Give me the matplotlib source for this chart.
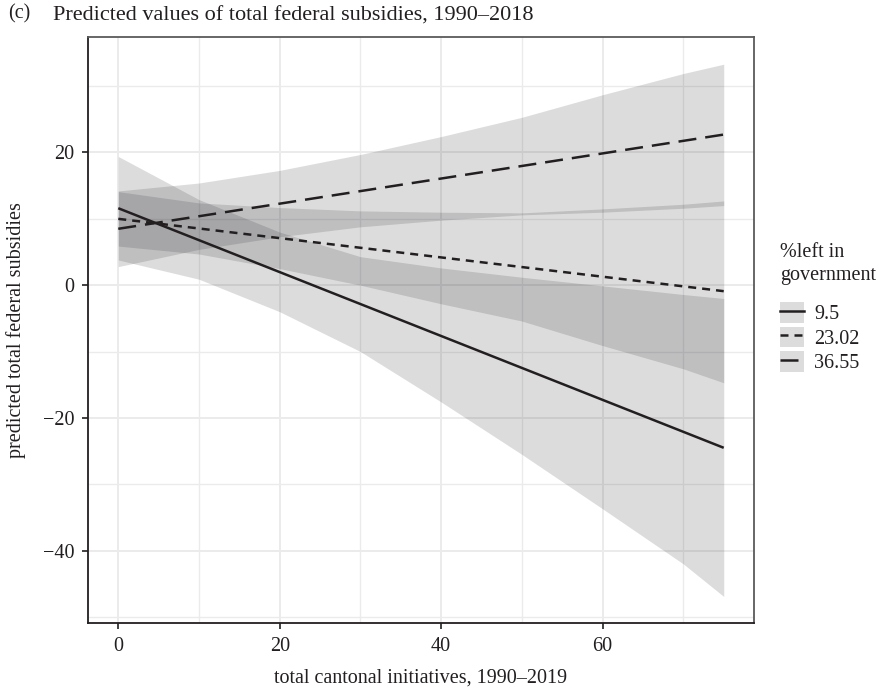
import matplotlib
matplotlib.use("Agg")
import matplotlib.pyplot as plt
from matplotlib.lines import Line2D
from matplotlib.patches import Patch
from matplotlib.ticker import MultipleLocator

plt.rcParams['font.family'] = ['Liberation Serif', 'DejaVu Serif']
plt.rcParams['axes.unicode_minus'] = True

# groups (%left in government)
groups = ["9.5", "23.02", "36.55"]

# predicted lines (straight, from x=0 to x=75)
line_x = [0, 75]
pred_95 = [11.6, -24.5]
pred_2302 = [10.0, -0.9]
pred_3655 = [8.5, 22.7]

# confidence bands read at these x values
band_x = [0, 10, 20, 30, 40, 50, 60, 70, 75]
low_95 = [3.8, 0.9, -4.0, -10.0, -17.6, -25.5, -33.7, -42.0, -46.9]
high_95 = [19.4, 12.9, 8.0, 4.3, 2.6, 1.2, -0.1, -1.4, -2.0]
low_2302 = [5.9, 4.7, 2.5, 0.0, -2.8, -5.4, -9.1, -12.6, -14.7]
high_2302 = [14.1, 12.4, 11.7, 11.2, 11.0, 10.9, 11.5, 12.2, 12.7]
low_3655 = [2.8, 5.4, 7.3, 8.8, 9.8, 10.6, 11.0, 11.6, 12.0]
high_3655 = [14.2, 15.4, 17.3, 19.7, 22.4, 25.3, 28.7, 31.9, 33.3]

ink = '#231f20'
band_col = (0.10, 0.10, 0.12)
band_alpha = 0.15
fs = 14.5

fig = plt.figure(figsize=(8.87, 6.89), dpi=100)
ax = fig.add_axes([88/887, 1 - 623/689, (754 - 88)/887, (623 - 37)/689])

preds = [pred_95, pred_2302, pred_3655]
lows = [low_95, low_2302, low_3655]
highs = [high_95, high_2302, high_3655]
dash_styles = [None, (3.2, 2.4), (7.2, 3.6)]

for lo, hi in zip(lows, highs):
    ax.fill_between(band_x, lo, hi, color=band_col, alpha=band_alpha, lw=0, zorder=2)

for p, ds in zip(preds, dash_styles):
    ln, = ax.plot(line_x, p, color=ink, lw=1.8, zorder=3, solid_capstyle='butt')
    if ds is not None:
        ln.set_dashes(ds)

ax.set_xlim(-3.75, 78.75)
ax.set_ylim(-50.9, 37.4)
ax.xaxis.set_major_locator(MultipleLocator(20))
ax.xaxis.set_minor_locator(MultipleLocator(10))
ax.yaxis.set_major_locator(MultipleLocator(20))
ax.yaxis.set_minor_locator(MultipleLocator(10))
ax.grid(which='major', color='#ebebeb', lw=1.4, zorder=0)
ax.grid(which='minor', color='#ebebeb', lw=1.0, zorder=0)
ax.set_axisbelow(True)

ax.tick_params(which='major', direction='out', length=4, width=1.2, color=ink,
               labelsize=fs, labelcolor=ink, pad=6)
ax.tick_params(which='minor', length=0)
for s in ['left', 'bottom']:
    ax.spines[s].set_color(ink)
    ax.spines[s].set_linewidth(1.3)
for s in ['top', 'right']:
    ax.spines[s].set_color('#5a5a5a')
    ax.spines[s].set_linewidth(1.3)

ax.set_xlabel("total cantonal initiatives, 1990\u20132019", fontsize=fs, color=ink, labelpad=9)
ax.set_ylabel("predicted total federal subsidies", fontsize=fs, color=ink, labelpad=12)

fig.text(8/887, 1 - 14/689, "(c)", fontsize=fs, color=ink, va='center', ha='left')
fig.text(53/887, 1 - 16/689, "Predicted values of total federal subsidies, 1990\u20132018",
         fontsize=16, color=ink, va='center', ha='left')

# legend
fig.text(780/887, 1 - 243/689, "%left in\ngovernment", fontsize=fs, color=ink,
         va='top', ha='left', linespacing=1.25)
handles = []
for ds in dash_styles:
    ln = Line2D([0], [0], color=ink, lw=1.8)
    if ds is not None:
        ln.set_dashes(ds)
    handles.append((Patch(facecolor=band_col, alpha=band_alpha, lw=0), ln))
leg = fig.legend(handles, groups, loc='upper left',
                 bbox_to_anchor=(780/887, 1 - 302/689), frameon=False, fontsize=fs,
                 handlelength=1.2, handleheight=1.2, borderpad=0, borderaxespad=0,
                 handletextpad=0.5, labelspacing=0.12)
for t in leg.get_texts():
    t.set_color(ink)

fig.savefig("out.png", dpi=100)
